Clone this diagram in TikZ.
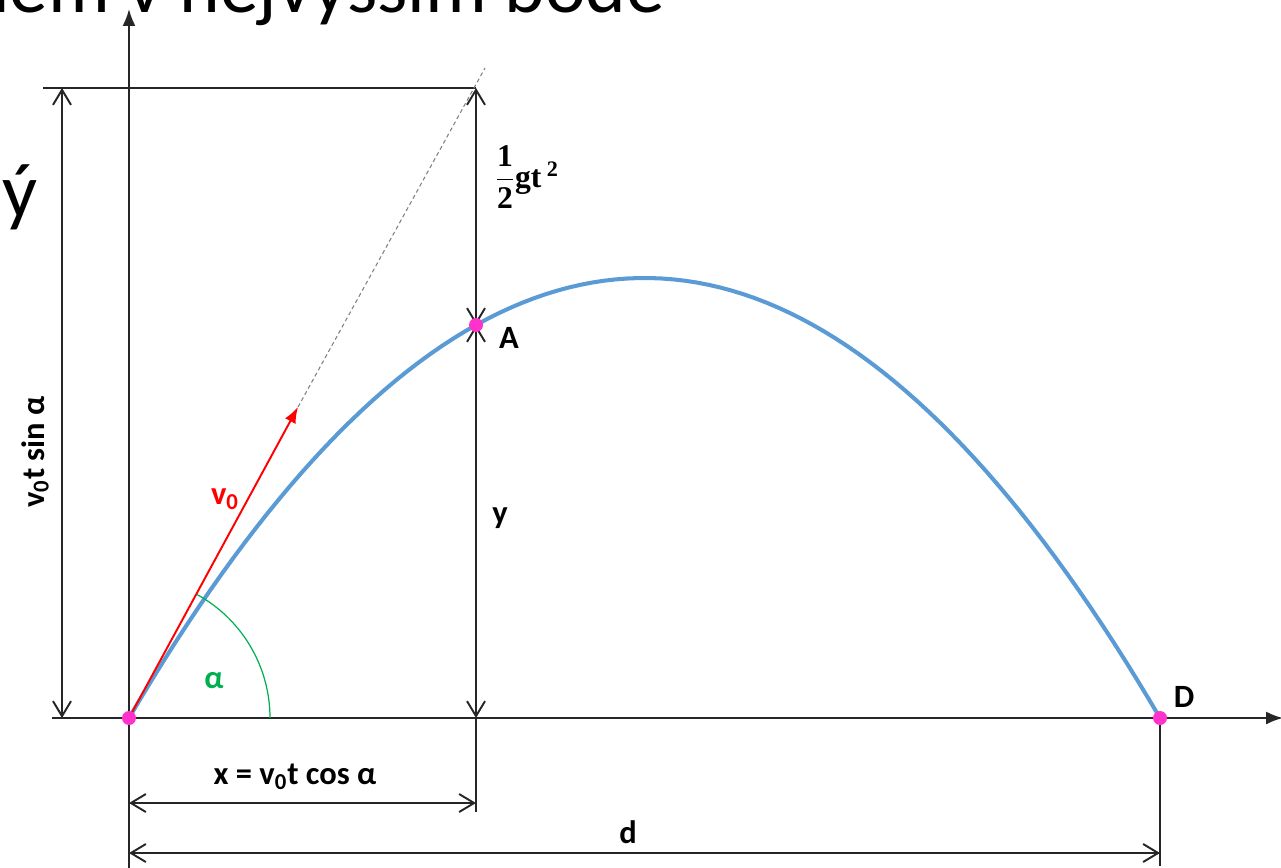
\documentclass[tikz,border=0pt]{standalone}
\usepackage{fontspec}
\setmainfont{Carlito}
\newfontfamily\serifbf{Liberation Serif}
\usetikzlibrary{arrows.meta}

\definecolor{curveblue}{RGB}{91,155,213}
\definecolor{ptmagenta}{RGB}{255,51,204}
\definecolor{anglegreen}{RGB}{0,176,80}

\begin{document}
\begin{tikzpicture}[x=0.02cm, y=-0.02cm, line width=1.1pt,
	axis/.style={draw=black!85, -{Latex[length=3.4mm,width=2.6mm]}},
	dimline/.style={draw=black!85, {Straight Barb[length=3mm,width=3.6mm]}-{Straight Barb[length=3mm,width=3.6mm]}},
	helper/.style={draw=black!85},
	lbl/.style={font=\fontsize{18.5}{22}\selectfont\bfseries, inner sep=0pt},
	pt/.style={circle, fill=ptmagenta, inner sep=0pt, minimum size=0.28cm}]
				\useasboundingbox (0,0) rectangle (1281,868);
				
				% 1. 关键点
				\coordinate (O) at (129,718);
				\coordinate (A) at (476,325);
				\coordinate (D) at (1160,718);
				\coordinate (Atop) at (476,88);
				\coordinate (Abot) at (476,718);
				\coordinate (Aend) at (476,812);
				\coordinate (Dend) at (1160,866);
				\coordinate (hl) at (43,88);
				\coordinate (sl) at (62,88);
				\coordinate (sb) at (62,718);
				\coordinate (xa) at (129,803);
				\coordinate (xb) at (476,803);
				\coordinate (da) at (129,853);
				\coordinate (db) at (1160,853);
				\coordinate (vtip) at (298,407);
				\coordinate (dend) at (485,68);
				
				% 2. 坐标轴与辅助线
				\draw[axis] (129,870) -- (129,9);
				\draw[axis] (52,718) -- (1283,718);
				\draw[helper] (hl) -- (Atop);
				\draw[helper] (Abot) -- (Aend);
				\draw[helper] (D) -- (Dend);
				
				% 3. 尺寸标注
				\draw[dimline] (sl) -- (sb);
				\draw[dimline] (Atop) -- (A);
				\draw[dimline] (A) -- (Abot);
				\draw[dimline] (xa) -- (xb);
				\draw[dimline] (da) -- (db);
				
				% 4. 轨迹与初速度
				\draw[gray, line width=0.6pt, dash pattern=on 0.8mm off 0.6mm] (vtip) -- (dend);
				\draw[curveblue, line width=2.3pt] plot[domain=129:1160, samples=90] (\x, {718 - 1760*((\x-129)/1031)*((1160-\x)/1031)});
				\draw[red, -{Latex[length=3.2mm,width=2.4mm]}] (O) -- (vtip);
				\draw[anglegreen, line width=0.7pt] (O) ++(141,0) arc[start angle=0, end angle=-61.3, radius=141];
				
				% 5. 点与标签
				\node[pt] (Odot) at (O) {};
				\node[pt] (Adot) at (A) {};
				\node[pt] (Ddot) at (D) {};
				\node[lbl, rotate=90] (sinlbl) at (35,452) {v\textsubscript{0}t sin α};
				\node[inner sep=0pt, font=\fontsize{18}{21}\selectfont\serifbf\bfseries] (gtlbl) at (527,177) {$\displaystyle\frac{\mbox{1}}{\mbox{2}}$gt\textsuperscript{ 2}};
				\node[lbl] (Albl) at (509,338) {A};
				\node[lbl] (ylbl) at (500,518) {y};
				\node[lbl] (Dlbl) at (1184,697) {D};
				\node[lbl, red] (v0lbl) at (225,499) {v\textsubscript{0}};
				\node[lbl, anglegreen] (alphalbl) at (214,681) {α};
				\node[lbl] (xlbl) at (295,777) {x = v\textsubscript{0}t cos α};
				\node[lbl] (dlbl) at (628,832) {d};
				
				% 6. 被裁切的幻灯片文字
				\node[anchor=base east, inner sep=0pt, font=\fontsize{44}{50}\selectfont] (title) at (666,13) {blem v nejvyšším bodě};
				\node[anchor=base east, inner sep=0pt, font=\fontsize{44}{50}\selectfont] (titleb) at (38,218) {ý};
\end{tikzpicture}
\end{document}
